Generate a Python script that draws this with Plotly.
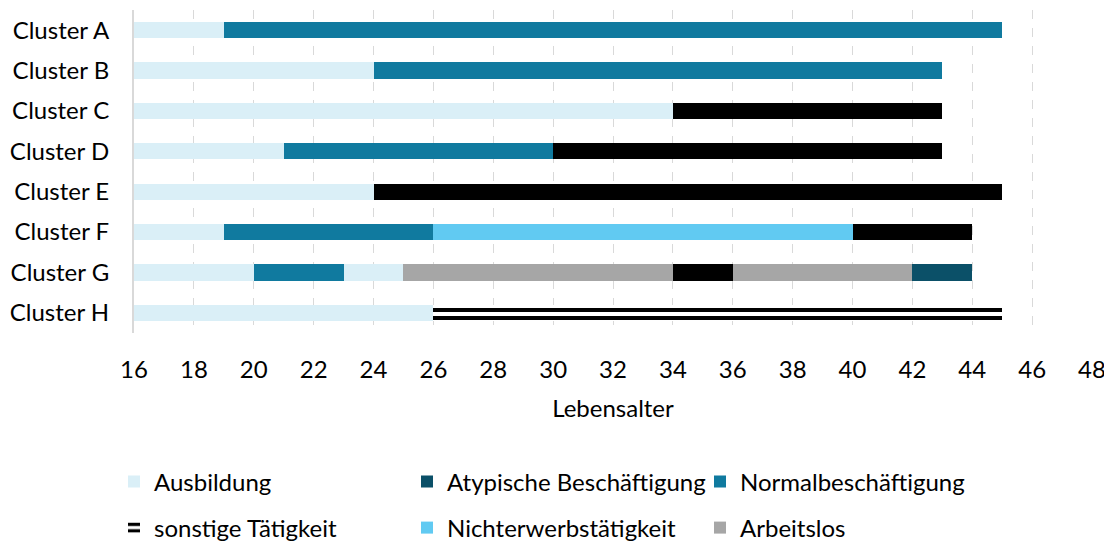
import plotly.graph_objects as go

clusters = ["Cluster A", "Cluster B", "Cluster C", "Cluster D",
            "Cluster E", "Cluster F", "Cluster G", "Cluster H"]

# Segments: cluster, start age, end age, category
seg_cluster = ["Cluster A", "Cluster A",
               "Cluster B", "Cluster B",
               "Cluster C", "Cluster C",
               "Cluster D", "Cluster D", "Cluster D",
               "Cluster E", "Cluster E",
               "Cluster F", "Cluster F", "Cluster F", "Cluster F",
               "Cluster G", "Cluster G", "Cluster G", "Cluster G", "Cluster G", "Cluster G", "Cluster G",
               "Cluster H", "Cluster H"]
seg_start = [16, 19,
             16, 24,
             16, 34,
             16, 21, 30,
             16, 24,
             16, 19, 26, 40,
             16, 20, 23, 25, 34, 36, 42,
             16, 26]
seg_end = [19, 45,
           24, 43,
           34, 43,
           21, 30, 43,
           24, 45,
           19, 26, 40, 44,
           20, 23, 25, 34, 36, 42, 44,
           26, 45]
seg_type = ["Ausbildung", "Normalbeschäftigung",
            "Ausbildung", "Normalbeschäftigung",
            "Ausbildung", "schwarz",
            "Ausbildung", "Normalbeschäftigung", "schwarz",
            "Ausbildung", "schwarz",
            "Ausbildung", "Normalbeschäftigung", "Nichterwerbstätigkeit", "schwarz",
            "Ausbildung", "Normalbeschäftigung", "Ausbildung", "Arbeitslos", "schwarz", "Arbeitslos", "Atypische Beschäftigung",
            "Ausbildung", "sonstige Tätigkeit"]

categories = ["Ausbildung", "Atypische Beschäftigung", "Normalbeschäftigung",
              "sonstige Tätigkeit", "Nichterwerbstätigkeit", "Arbeitslos", "schwarz"]
colors = {
    "Ausbildung": "#daeff7",
    "Atypische Beschäftigung": "#0b5068",
    "Normalbeschäftigung": "#107a9f",
    "sonstige Tätigkeit": "#ffffff",
    "Nichterwerbstätigkeit": "#61caf2",
    "Arbeitslos": "#a6a6a6",
    "schwarz": "#000000",
}
x_ticks = list(range(16, 49, 2))

FONT = "Lato"
FS = 24
OFF = 8  # page body margin of the html page
W, H = 1112 - OFF, 543 - OFF
PL, PR, PT, PB = 134 - OFF, 1092 - OFF, 10 - OFF, 333 - OFF

legend_pos = {  # pixel position (left, middle) of legend boxes in page coords
    "Ausbildung": (114, 482),
    "Atypische Beschäftigung": (407, 482),
    "Normalbeschäftigung": (700, 482),
    "sonstige Tätigkeit": (114, 528),
    "Nichterwerbstätigkeit": (407, 528),
    "Arbeitslos": (700, 528),
}

fig = go.Figure()
legend_names = {}
for cat in categories:
    ys, xs, bs = [], [], []
    for c, s, e, t in zip(seg_cluster, seg_start, seg_end, seg_type):
        if t == cat:
            ys.append(c)
            bs.append(s)
            xs.append(e - s)
    marker = dict(color=colors[cat], line=dict(width=0))
    if cat == "sonstige Tätigkeit":
        marker["pattern"] = dict(shape="-", fgcolor="#000000", bgcolor="#ffffff",
                                 size=8, solidity=0.5, fillmode="replace")
    kw = {}
    if cat in legend_pos:
        idx = len(legend_names) + 1
        lname = "legend" if idx == 1 else f"legend{idx}"
        legend_names[cat] = lname
        kw["legend"] = lname
        kw["showlegend"] = True
    else:
        kw["showlegend"] = False
    fig.add_trace(go.Bar(y=ys, x=xs, base=bs, orientation="h", name=cat,
                         marker=marker, width=0.4, **kw))

layout_legends = {}
for cat, lname in legend_names.items():
    px, py = legend_pos[cat]
    px -= OFF
    py -= OFF
    layout_legends[lname] = dict(
        x=(px - PL) / (PR - PL), y=(PB - py) / (PB - PT),
        xanchor="left", yanchor="middle", orientation="h",
        font=dict(family=FONT, size=FS, color="#000000"),
        bgcolor="rgba(0,0,0,0)", borderwidth=0,
    )

fig.update_layout(
    width=W, height=H,
    margin=dict(l=PL, r=W - PR, t=PT, b=H - PB, autoexpand=False),
    plot_bgcolor="white", paper_bgcolor="white",
    barmode="overlay", bargap=0,
    font=dict(family=FONT, size=FS, color="#000000"),
    xaxis=dict(range=[16, 48], tickvals=x_ticks, ticktext=[str(v) for v in x_ticks],
               showgrid=True, gridcolor="#d9d9d9", griddash="dash", gridwidth=1,
               zeroline=False, showline=False, ticks="", ticklabelstandoff=20,
               automargin=False,
               tickfont=dict(family=FONT, size=FS),
               title=dict(text="Lebensalter", standoff=18, font=dict(family=FONT, size=FS))),
    yaxis=dict(categoryorder="array", categoryarray=clusters, autorange="reversed",
               showgrid=False, zeroline=False, showline=True, linecolor="#d9d9d9",
               linewidth=2, ticks="", ticklabelstandoff=18, automargin=False,
               tickfont=dict(family=FONT, size=FS)),
    **layout_legends,
)

fig.write_html("out.html")
